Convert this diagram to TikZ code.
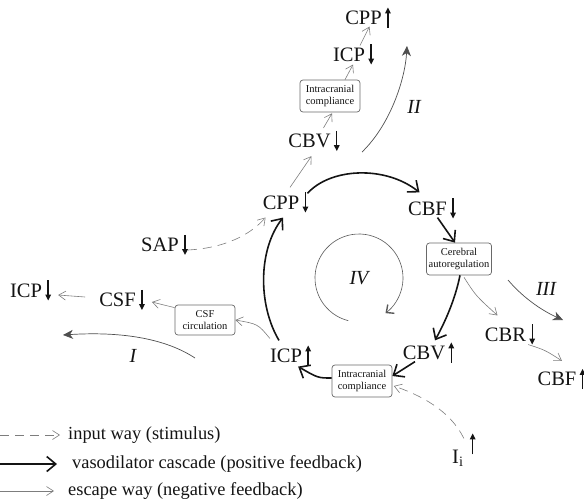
\documentclass[tikz,border=0pt]{standalone}
\usepackage{fontspec}
\setmainfont{Liberation Serif}
\usetikzlibrary{arrows.meta,positioning,calc}
\definecolor{ink}{RGB}{20,20,20}
\definecolor{escgray}{RGB}{125,125,125}
\definecolor{boxgray}{RGB}{105,105,105}
\tikzset{
  var/.style       = {inner sep=0pt, text=ink, font=\fontsize{20.5}{22}\selectfont},
  regbox/.style    = {rounded corners=3pt, draw=boxgray, line width=0.7pt, fill=white,
                      text=ink, align=center, minimum width=60pt, minimum height=32pt,
                      inner sep=1pt, font=\fontsize{10.5}{12}\selectfont},
  numeral/.style   = {inner sep=0pt, text=ink, font=\fontsize{20}{22}\selectfont\itshape},
  legendtext/.style= {anchor=west, inner sep=0pt, text=ink, font=\fontsize{18.4}{20}\selectfont},
  cascade/.style   = {-{Straight Barb[length=9pt,width=15pt]}, line width=1.6pt, draw=ink},
  escape/.style    = {-{Straight Barb[length=7pt,width=9pt]}, line width=0.6pt, draw=escgray},
  stimulus/.style  = {escape, dash pattern=on 9pt off 6pt},
  loopway/.style   = {-{Stealth[length=10pt,width=9pt,inset=3pt]}, line width=0.7pt, draw=ink!75},
  trend/.style     = {-{Triangle[length=6pt,width=5.5pt]}, line width=1.4pt, draw=ink},
}
% small trend arrow to the right of a variable
\newcommand{\rises}[1]{\draw[trend] ([xshift=6pt,yshift=-3pt]#1.south east) -- ([xshift=6pt,yshift=3pt]#1.north east);}
\newcommand{\falls}[1]{\draw[trend] ([xshift=6pt,yshift=3pt]#1.north east) -- ([xshift=6pt,yshift=-3pt]#1.south east);}

\begin{document}
\begin{tikzpicture}[x=1pt,y=-1pt]
\useasboundingbox (0,0) rectangle (584,501);

% Escape route II: volume compensation upwards
\node[var] (cppT) at (363.5,17.5) {CPP};
\node[var] (icpT) at (349,54.5) {ICP};
\node[regbox] (compT) at (330,96) {Intracranial\\compliance};
\node[var] (cbvT) at (309.5,141) {CBV};
\rises{cppT} \falls{icpT} \falls{cbvT}

% Main loop
\node[var] (cpp) at (281,202.5) {CPP};
\node[var] (cbf) at (427.5,208.5) {CBF};
\node[regbox, minimum width=65pt] (auto) at (459,259) {Cerebral\\autoregulation};
\node[var] (cbv) at (424,352.5) {CBV};
\node[regbox] (compB) at (362,381) {Intracranial\\compliance};
\node[var] (icp) at (286,355.5) {ICP};
\falls{cpp} \falls{cbf} \rises{cbv} \rises{icp}

% Side branches
\node[regbox, minimum height=30pt] (csfc) at (205,320) {CSF\\circulation};
\node[var] (csf) at (117.5,300) {CSF};
\node[var] (icpL) at (26,290.5) {ICP};
\node[var] (sap) at (160,245) {SAP};
\node[var] (cbr) at (505.5,334.5) {CBR};
\node[var] (cbfB) at (557,379) {CBF};
\node[var, anchor=base west] (ii) at (452,463) {I\textsubscript{i}};
\falls{csf} \falls{icpL} \falls{sap} \falls{cbr} \rises{cbfB}
\draw[trend] ([xshift=9pt,yshift=-5pt]ii.north east) -- ([xshift=9pt,yshift=16pt]ii.north east);

% Loop numerals
\node[numeral] (nI) at (133,356) {I};
\node[numeral] (nII) at (414,107) {II};
\node[numeral] (nIII) at (546,289) {III};
\node[numeral] (nIV) at (359,278) {IV};

% vasodilator cascade
\draw[cascade] ([xshift=8pt,yshift=2pt]cpp.north east) .. controls (330,168) and (385,165) .. ([xshift=-8pt,yshift=9pt]cbf.north);
\draw[cascade] ([xshift=10pt,yshift=-2pt]cbf.south) -- ([xshift=-4pt]auto.north);
\draw[cascade] ([xshift=1pt]auto.south) .. controls (455,300) and (445,322) .. ([xshift=11pt,yshift=5pt]cbv.north);
\draw[cascade] ([xshift=-9pt,yshift=-2pt]cbv.south) -- ([yshift=5pt]compB.east);
\draw[cascade] ([yshift=3pt]compB.west) .. controls (318,378) .. ([xshift=-4pt,yshift=-4pt]icp.south east);
\draw[cascade] ([xshift=-7pt,yshift=8pt]icp.north) .. controls (258,305) and (258,250) .. ([xshift=2pt,yshift=-8pt]cpp.south);

% escape ways
\draw[escape] ([xshift=9pt,yshift=8pt]cpp.north) -- ([xshift=2pt,yshift=-8pt]cbvT.south);
\draw[escape] ([xshift=14pt,yshift=6pt]cbvT.north) -- ([xshift=2pt,yshift=-1pt]compT.south);
\draw[escape] ([xshift=15pt]compT.north) -- ([xshift=4pt,yshift=-3pt]icpT.south);
\draw[escape] ([xshift=11pt,yshift=2pt]icpT.north) -- ([xshift=6pt,yshift=-2pt]cppT.south);
\draw[escape] ([xshift=5pt,yshift=-2pt]auto.south) .. controls (476,296) .. ([xshift=-8pt,yshift=12pt]cbr.north);
\draw[escape] ([xshift=2pt,yshift=-3pt]cbr.south east) .. controls (545,350) .. ([xshift=5pt,yshift=11pt]cbfB.north);
\draw[escape] ([yshift=10pt]icp.north west) .. controls (258,324) .. (csfc.east);
\draw[escape] ([yshift=-3pt]csfc.north west) -- ([xshift=16pt,yshift=-2pt]csf.east);
\draw[escape] ([xshift=-14pt,yshift=3pt]csf.west) -- ([xshift=16pt,yshift=-4.5pt]icpL.east);

% stimuli
\draw[stimulus] ([xshift=9pt,yshift=-5pt]sap.east) .. controls (225,248) and (250,235) .. ([xshift=3pt,yshift=-15pt]cpp.west);
\draw[stimulus] ([xshift=6pt,yshift=11pt]ii.north) .. controls (450,410) and (420,395) .. ([xshift=1.5pt,yshift=-5pt]compB.east);

% loops I, II, III
\coordinate (iS) at (195,358);   \coordinate (iE) at (63,335);
\coordinate (iiS) at (362,152);  \coordinate (iiE) at (407,46);
\coordinate (iiiS) at (508,280); \coordinate (iiiE) at (563,320);
\draw[loopway] (iS) .. controls (160,335) and (110,332) .. (iE);
\draw[loopway] (iiS) .. controls (390,125) and (405,80) .. (iiE);
\draw[loopway] (iiiS) .. controls (525,300) and (545,312) .. (iiiE);

% loop IV
\draw[line width=0.6pt, draw=ink!70, -{Straight Barb[length=6pt,width=11pt,line width=1.4pt]}]
  ([shift={(256:44pt)}]nIV.center) arc[start angle=256, end angle=-53, radius=44pt];

% legend
\coordinate (k1) at (0,435);
\coordinate (k2) at (0,464);
\coordinate (k3) at (0,491);
\node[legendtext] (t1) at (68,435) {input way (stimulus)};
\node[legendtext] (t2) at (72,464) {vasodilator cascade (positive feedback)};
\node[legendtext] (t3) at (68,491) {escape way (negative feedback)};
\draw[stimulus] (k1) -- ([xshift=-8pt]t1.west);
\draw[cascade] (k2) -- ([xshift=-15pt]t2.west);
\draw[escape] (k3) -- ([xshift=-14pt]t3.west);
\end{tikzpicture}
\end{document}
